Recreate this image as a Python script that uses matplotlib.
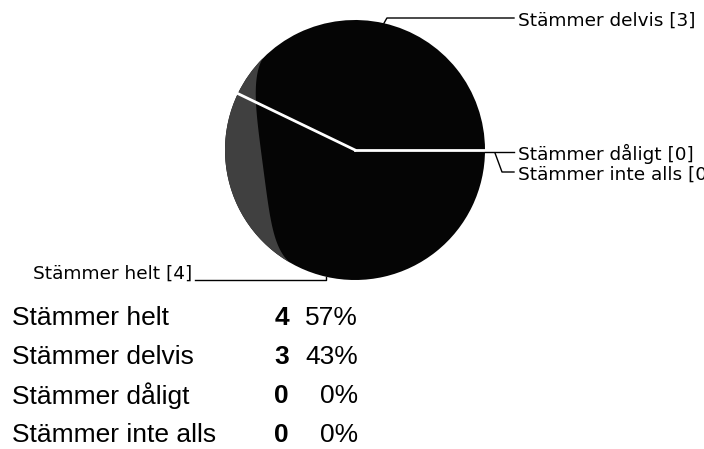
"""Pie chart of survey answers with a summary table below."""

import numpy as np
from matplotlib import pyplot as plt
from matplotlib.patches import Polygon

categories = ["Stämmer helt", "Stämmer delvis", "Stämmer dåligt", "Stämmer inte alls"]
counts = [4, 3, 0, 0]
percent_labels = ["57%", "43%", "0%", "0%"]

plt.rcParams["font.family"] = ["Liberation Sans", "DejaVu Sans"]

fig = plt.figure(figsize=(7.04, 4.49), dpi=100)
ax = fig.add_axes([0, 0, 1, 1])

# Pie geometry in pixel coordinates (y grows downwards).
cx, cy, radius = 355, 150, 130

wedges, _ = ax.pie(
    counts,
    center=(cx, cy),
    radius=radius,
    startangle=0,
    counterclock=True,
    colors=["#050505"] * len(counts),
    wedgeprops={"edgecolor": "none"},
)

# Grey crescent shading on the left edge of the disc (scanned 3D look).
phi = np.deg2rad(np.linspace(135, 240, 200))
thick = 37 * np.sin(np.pi * (phi - phi[0]) / (phi[-1] - phi[0])) ** 1.2
ox = cx + radius * np.cos(phi)
oy = cy - radius * np.sin(phi)
outline = np.vstack([np.column_stack([ox, oy]),
                     np.column_stack([ox + thick, oy])[::-1]])
ax.add_patch(Polygon(outline, closed=True, facecolor="#404040",
                     edgecolor="none", zorder=2))

# Slice boundaries in white on top of the shading.
for wedge in wedges:
    if wedge.theta2 - wedge.theta1 > 0:
        t = np.deg2rad(wedge.theta1)
        ax.plot([cx, cx + radius * np.cos(t)], [cy, cy + radius * np.sin(t)],
                color="white", linewidth=2, zorder=3)

label_font = {"family": ["DejaVu Sans"], "size": 13.3}
line_kw = {"color": "black", "linewidth": 1, "zorder": 4}


def edge_point(wedge):
    mid = np.deg2rad((wedge.theta1 + wedge.theta2) / 2)
    return cx + radius * np.cos(mid), cy + radius * np.sin(mid)


# Stämmer helt: leader to the lower left.
px, py = edge_point(wedges[0])
ax.plot([px, px, 195], [py, 280, 280], **line_kw)
ax.text(192, 274, f"{categories[0]} [{counts[0]}]", ha="right", va="center",
        fontdict=label_font)

# Stämmer delvis: leader to the upper right.
px, py = edge_point(wedges[1])
ax.plot([px, px + 3, 514], [py, 18, 18], **line_kw)
ax.text(518, 21, f"{categories[1]} [{counts[1]}]", ha="left", va="center",
        fontdict=label_font)

# Empty slices at the right edge.
px, py = edge_point(wedges[2])
ax.plot([px, 514], [py + 2, py + 2], **line_kw)
ax.text(518, 154, f"{categories[2]} [{counts[2]}]", ha="left", va="center",
        fontdict=label_font)

px, py = edge_point(wedges[3])
ax.plot([px + 10, px + 17, 514], [py + 3, 172, 172], **line_kw)
ax.text(518, 175, f"{categories[3]} [{counts[3]}]", ha="left", va="center",
        fontdict=label_font)

# Summary table.
row_y = [318, 357, 396, 435]
for name, count, pct, y in zip(categories, counts, percent_labels, row_y):
    ax.text(12, y, name, ha="left", va="center", fontsize=19)
    ax.text(289, y, str(count), ha="right", va="center", fontsize=19,
            fontweight="bold")
    ax.text(358, y, pct, ha="right", va="center", fontsize=19)

ax.set_xlim(0, 704)
ax.set_ylim(449, 0)
ax.set_aspect("auto")
ax.axis("off")

fig.savefig("out.png", dpi=100)
